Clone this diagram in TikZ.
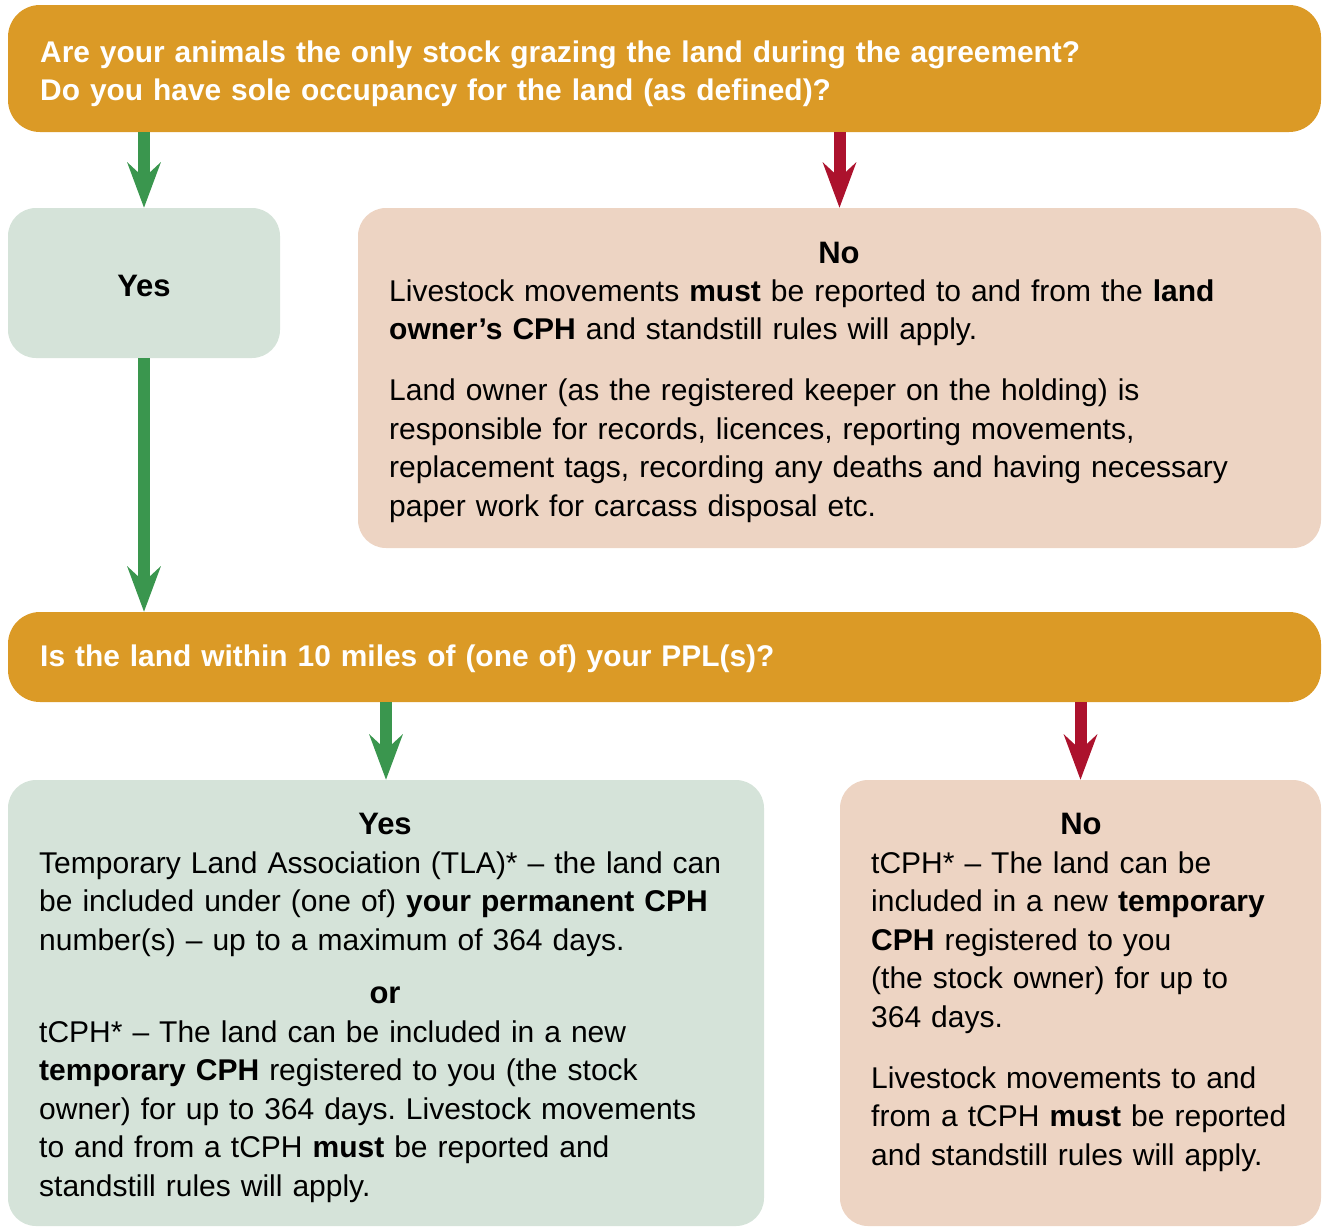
\documentclass[tikz,border=0pt]{standalone}
\usepackage{fontspec}
\setmainfont{Liberation Sans}
\usetikzlibrary{arrows.meta}
\definecolor{qorange}{RGB}{219,154,38}
\definecolor{ygreen}{RGB}{213,227,217}
\definecolor{npeach}{RGB}{237,212,195}
\definecolor{agreen}{RGB}{58,150,78}
\definecolor{ared}{RGB}{172,18,45}
\frenchspacing
\begin{document}
\frenchspacing
\begin{tikzpicture}[x=1pt,y=-1pt]
\tikzset{
 box/.style={rectangle, rounded corners=28pt, inner sep=0pt, draw=none},
 qbox/.style={box, fill=qorange, rounded corners=32pt},
 ybox/.style={box, fill=ygreen},
 nbox/.style={box, fill=npeach},
 body/.style={inner sep=0pt, anchor=base west, align=left, text width=960pt, font=\fontsize{30}{38.5}\selectfont\frenchspacing, text=black},
 qtext/.style={body, text width=1280pt, font=\fontsize{29.9}{38}\selectfont\bfseries\frenchspacing, text=white},
 head/.style={inner sep=0pt, anchor=base, font=\fontsize{31}{38.5}\selectfont\bfseries, text=black},
 garrow/.style={draw=agreen, line width=12pt, -{Stealth[length=45pt,width=33pt,inset=15pt]}},
 rarrow/.style={garrow, draw=ared},
}
\useasboundingbox (0,0) rectangle (1323,1227);
% boxes
\node[qbox, minimum width=1313pt, minimum height=127pt] (top) at (664.5,68.5) {};
\node[ybox, minimum width=272pt, minimum height=150pt] (yes1) at (144,283) {};
\node[nbox, minimum width=963pt, minimum height=340pt] (no1) at (839.5,378) {};
\node[qbox, minimum width=1313pt, minimum height=90pt] (q2) at (664.5,657) {};
\node[ybox, minimum width=756pt, minimum height=446pt] (yes2) at (386,1003) {};
\node[nbox, minimum width=481pt, minimum height=446pt] (no2) at (1080.5,1003) {};
% arrows
\draw[garrow] (top.south -| yes1.north) -- (yes1.north);
\draw[rarrow] (top.south -| no1.north) -- (no1.north);
\draw[garrow] (yes1.south) -- (yes1.south |- q2.north);
\draw[garrow] (q2.south -| yes2.north) -- (yes2.north);
\draw[rarrow] (q2.south -| no2.north) -- (no2.north);
% texts
\node[qtext] (t1) at (40,62) {Are your animals the only stock grazing the land during the agreement?\\
Do you have sole occupancy for the land (as defined)?};
\node[head] (y1h) at (144,296) {Yes};
\node[head] (n1h) at (839,263) {No};
\node[body] (n1b) at (389,301) {Livestock movements \textbf{must} be reported to and from the \textbf{land}\\
\textbf{owner’s CPH} and standstill rules will apply.\\[22.5pt]
Land owner (as the registered keeper on the holding) is\\
responsible for records, licences, reporting movements,\\
replacement tags, recording any deaths and having necessary\\
paper work for carcass disposal etc.};
\node[qtext] (t2) at (40,666) {Is the land within 10 miles of (one of) your PPL(s)?};
\node[head] (y2h) at (385,834) {Yes};
\node[body] (y2a) at (39,873) {Temporary Land Association (TLA)* – the land can\\
be included under (one of) \textbf{your permanent CPH}\\
number(s) – up to a maximum of 364 days.};
\node[head] (y2or) at (385,1003) {or};
\node[body] (y2b) at (39,1042) {tCPH* – The land can be included in a new\\
\textbf{temporary CPH} registered to you (the stock\\
owner) for up to 364 days. Livestock movements\\
to and from a tCPH \textbf{must} be reported and\\
standstill rules will apply.};
\node[head] (n2h) at (1081,834) {No};
\node[body] (n2b) at (871,873) {tCPH* – The land can be\\
included in a new \textbf{temporary}\\
\textbf{CPH} registered to you\\
(the stock owner) for up to\\
364 days.\\[22.5pt]
Livestock movements to and\\
from a tCPH \textbf{must} be reported\\
and standstill rules will apply.};
\end{tikzpicture}
\end{document}
